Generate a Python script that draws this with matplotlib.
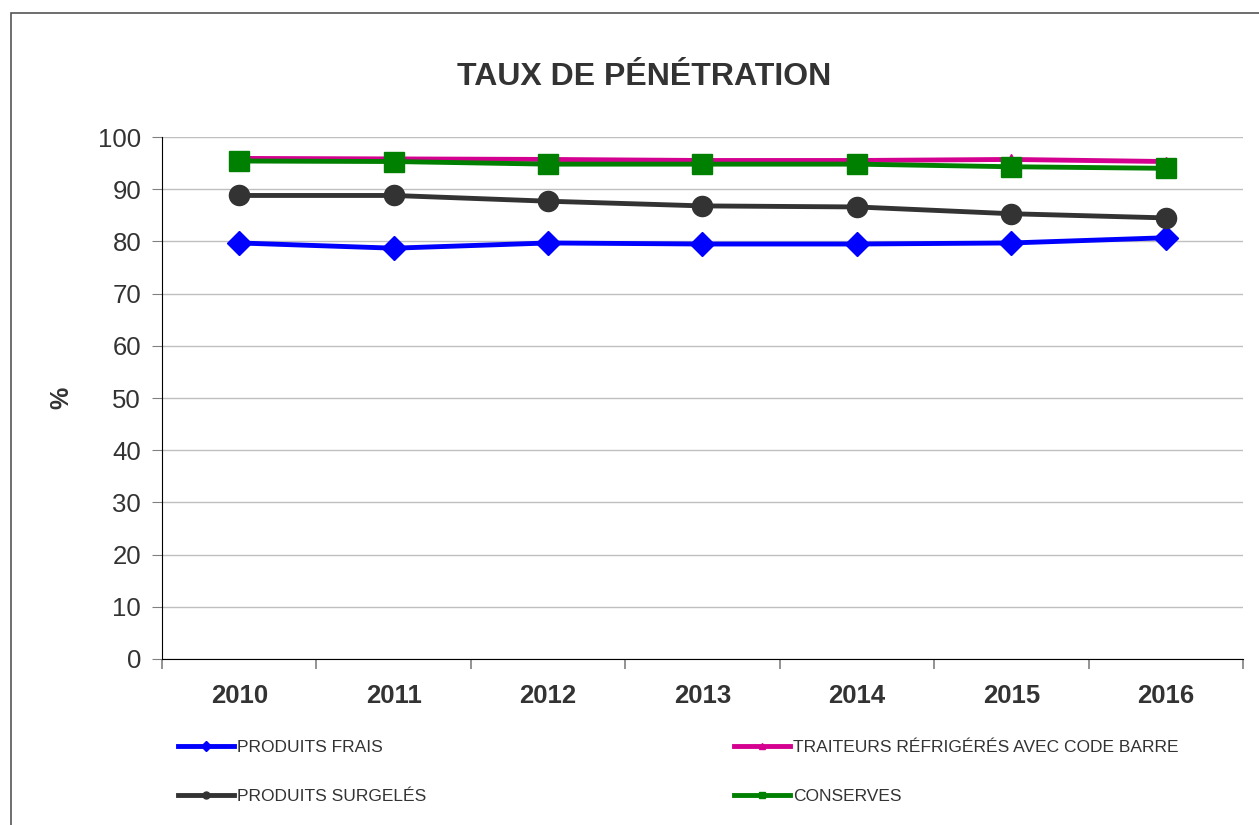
import matplotlib.pyplot as plt
from matplotlib.lines import Line2D
from matplotlib.patches import Rectangle
import numpy as np

plt.rcParams['font.family'] = ['Liberation Sans', 'DejaVu Sans']

annees = ['2010', '2011', '2012', '2013', '2014', '2015', '2016']
frais = [79.7, 78.7, 79.7, 79.5, 79.5, 79.7, 80.7]
traiteurs = [95.9, 95.8, 95.7, 95.5, 95.5, 95.7, 95.3]
surgeles = [88.8, 88.8, 87.7, 86.8, 86.6, 85.3, 84.5]
conserves = [95.4, 95.3, 94.8, 94.8, 94.8, 94.3, 94.0]

noms = ['PRODUITS FRAIS', 'TRAITEURS RÉFRIGÉRÉS AVEC CODE BARRE',
        'PRODUITS SURGELÉS', 'CONSERVES']

texte = '#333333'

fig = plt.figure(figsize=(12.59, 8.25), dpi=100)
fig.patches.append(Rectangle((11/1259, -0.05), 1.2, 1 - 13/825 + 0.05,
                             transform=fig.transFigure, fill=False,
                             edgecolor='#555555', lw=1.2))
ax = fig.add_axes([162/1259, 1 - 659/825, 1081/1259, 522/825])

x = np.arange(len(annees))
l1, = ax.plot(x, frais, color='#0000ff', lw=3.5, marker='D', ms=12.5, zorder=3)
l2, = ax.plot(x, traiteurs, color='#d4008f', lw=3.5, marker='^', ms=7.5, zorder=3)
l3, = ax.plot(x, surgeles, color='#333333', lw=3.5, marker='o', ms=14.5, zorder=3)
l4, = ax.plot(x, conserves, color='#008000', lw=3.5, marker='s', ms=14, zorder=4)

ax.set_xlim(-0.5, len(annees) - 0.5)
ax.set_ylim(0, 100)
ax.set_yticks(range(0, 101, 10))
ax.yaxis.grid(True, color='#bfbfbf', lw=1)
ax.set_axisbelow(True)
ax.set_xticks(x)
ax.set_xticklabels(annees, fontsize=18.5, fontweight='bold', color=texte)
ax.set_xticks(np.arange(-0.5, len(annees)), minor=True)
ax.tick_params(axis='x', which='major', length=0, pad=18)
ax.tick_params(axis='x', which='minor', length=7, color='#808080', width=1.2)
ax.tick_params(axis='y', length=7, color='#808080', labelsize=18.5,
               labelcolor=texte, pad=8)
for s in ['top', 'right']:
    ax.spines[s].set_visible(False)
ax.spines['left'].set_color('black')
ax.spines['bottom'].set_color('black')
ax.set_ylabel('%', fontsize=18, fontweight='bold', color=texte, labelpad=18)
fig.text(0.512, 1 - 77/825, 'TAUX DE PÉNÉTRATION', ha='center', va='center',
         fontsize=23, fontweight='bold', color=texte)

def poignee(ligne, m):
    return Line2D([], [], color=ligne.get_color(), lw=3.5, marker=m, ms=5)

opts = dict(loc='center left', frameon=False, fontsize=12.5, labelcolor=texte,
            handlelength=3.2, handletextpad=0.2, labelspacing=1.95,
            borderpad=0, borderaxespad=0)
fig.legend([poignee(l1, 'D'), poignee(l3, 'o')], [noms[0], noms[2]],
           bbox_to_anchor=(178/1259, 1 - 772/825), **opts)
fig.legend([poignee(l2, '^'), poignee(l4, 's')], [noms[1], noms[3]],
           bbox_to_anchor=(734/1259, 1 - 772/825), **opts)

fig.savefig('out.png', dpi=100)
